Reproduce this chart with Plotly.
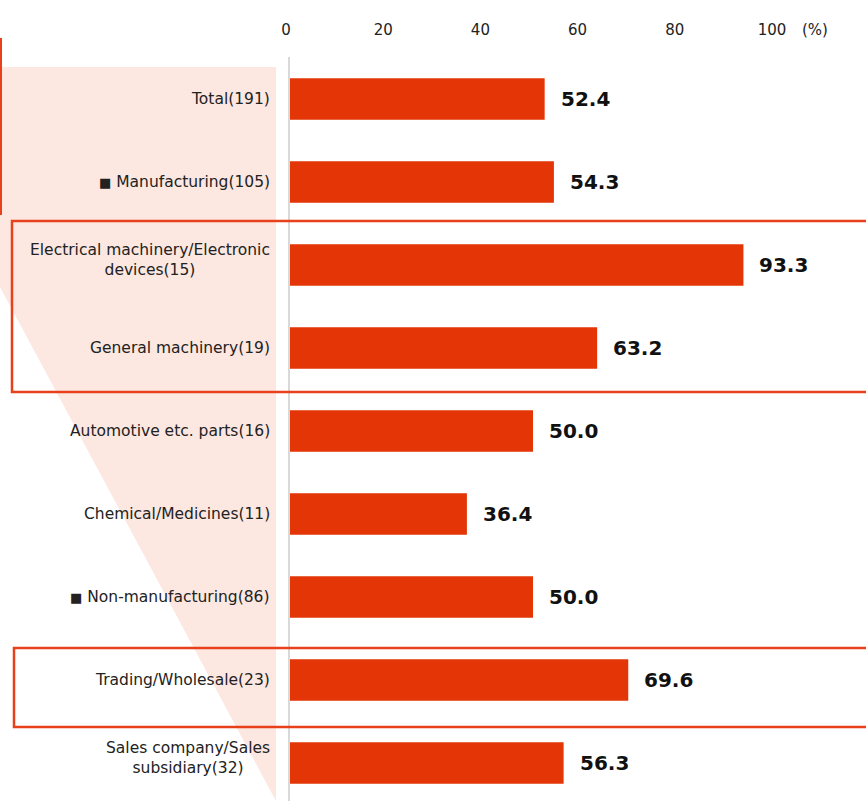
import plotly.graph_objects as go

categories = [
    "Total(191)",
    "■Manufacturing(105)",
    "Electrical machinery/Electronic<br>devices(15)",
    "General machinery(19)",
    "Automotive etc. parts(16)",
    "Chemical/Medicines(11)",
    "■Non-manufacturing(86)",
    "Trading/Wholesale(23)",
    "Sales company/Sales<br>subsidiary(32)",
]
values = [52.4, 54.3, 93.3, 63.2, 50.0, 36.4, 50.0, 69.6, 56.3]
tick_vals = [0, 20, 40, 60, 80, 100]
tick_text = ["0", "20", "40", "60", "80", "100"]

W, H = 866, 801
L, T = 290, 57  # plot-area left/top in pixels
BAR = "#E33505"
RED = "#E8401A"
PINK = "#FCE7E1"
FONT = "DejaVu Sans"


def px(x):
    return (x - L) / (W - L)


def py(y):
    return (H - y) / (H - T)


ypos = list(range(len(categories)))

fig = go.Figure()
fig.add_trace(go.Bar(
    x=values, y=ypos, orientation="h", width=0.5,
    marker=dict(color=BAR, line=dict(width=0)),
    hoverinfo="skip",
))

ann = []
for i, (c, v) in enumerate(zip(categories, values)):
    label = c.replace("■", "<span style='font-size:13px'>■</span> ")
    ann.append(dict(
        x=0, xref="paper", y=i, yref="y", text=label, showarrow=False,
        xanchor="right", yanchor="middle", xshift=-18, align="center",
        yshift=5 if "<br>" in c else 0,
        font=dict(family=FONT, size=15.5, color="#222222"),
    ))
    ann.append(dict(
        x=v, xref="x", y=i, yref="y", text=f"<b>{v:.1f}</b>", showarrow=False,
        xanchor="left", yanchor="middle", xshift=14,
        font=dict(family=FONT, size=20, color="#111111"),
    ))
ann.append(dict(
    x=px(815), xref="paper", y=py(30), yref="paper", text="(%)", showarrow=False,
    xanchor="center", yanchor="middle",
    font=dict(family=FONT, size=15, color="#222222"),
))

shapes = [
    dict(type="path", xref="paper", yref="paper", layer="below",
         path=f"M {px(0)} {py(67)} L {px(276)} {py(67)} L {px(276)} {py(801)} L {px(0)} {py(287)} Z",
         fillcolor=PINK, line=dict(width=0)),
    dict(type="line", xref="paper", yref="paper",
         x0=px(1), x1=px(1), y0=py(38), y1=py(215),
         line=dict(color=RED, width=2)),
    dict(type="rect", xref="paper", yref="paper",
         x0=px(12), x1=px(870), y0=py(221), y1=py(392),
         line=dict(color=RED, width=2.5)),
    dict(type="rect", xref="paper", yref="paper",
         x0=px(14), x1=px(870), y0=py(648), y1=py(727),
         line=dict(color=RED, width=2.5)),
]

fig.update_layout(
    width=W, height=H, autosize=False,
    margin=dict(l=L, r=0, t=T, b=0, pad=0),
    paper_bgcolor="white", plot_bgcolor="rgba(0,0,0,0)",
    showlegend=False,
    annotations=ann, shapes=shapes,
    xaxis=dict(
        side="top", range=[0, (W - L) / 4.86], tickvals=tick_vals, ticktext=tick_text,
        showgrid=False, zeroline=False, showline=False, ticks="",
        tickfont=dict(family=FONT, size=15, color="#222222"),
        ticklabelstandoff=18, ticklabelshift=-4, fixedrange=True,
    ),
    yaxis=dict(
        range=[8.458, -0.506], showticklabels=False, showgrid=False, zeroline=False,
        showline=True, linecolor="#D9D9D9", linewidth=2, ticks="", fixedrange=True,
    ),
)

fig.write_html(
    "out.html",
    config={"displayModeBar": False, "staticPlot": True},
    post_script="document.body.style.margin='0';document.body.style.overflow='hidden';",
)
